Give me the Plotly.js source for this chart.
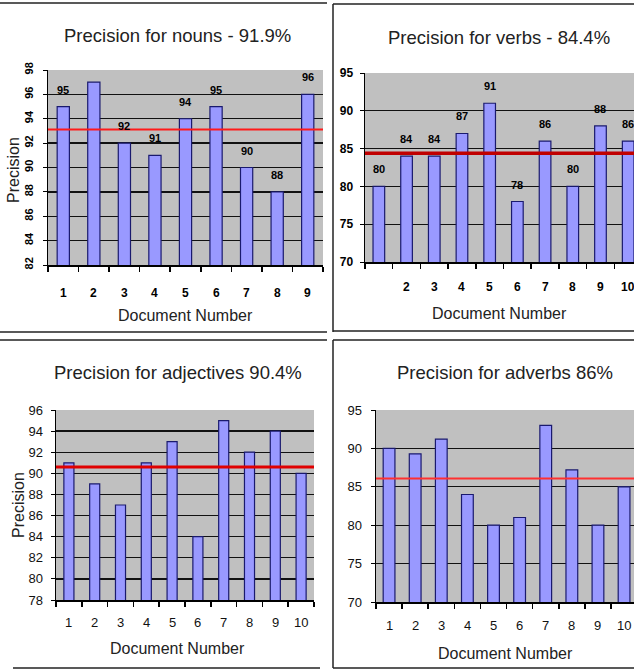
<!DOCTYPE html>
<html>
<head>
<meta charset="utf-8">
<script src="https://cdn.plot.ly/plotly-3.0.1.min.js"></script>
<style>
html,body{margin:0;padding:0;background:#fff;}
#chart{width:634px;height:671px;}
</style>
</head>
<body>
<div id="chart"></div>
<script>
// ---- data ----
const nounDocs = [1, 2, 3, 4, 5, 6, 7, 8, 9];
const nounTicks = ['1', '2', '3', '4', '5', '6', '7', '8', '9'];
const nounVals = [95, 97, 92, 91, 94, 95, 90, 88, 96];

const verbDocs = [1, 2, 3, 4, 5, 6, 7, 8, 9, 10];
const verbTicks = ['', '2', '3', '4', '5', '6', '7', '8', '9', '10'];
const verbVals = [80, 84, 84, 87, 91, 78, 86, 80, 88, 86];

const adjDocs = [1, 2, 3, 4, 5, 6, 7, 8, 9, 10];
const adjTicks = ['1', '2', '3', '4', '5', '6', '7', '8', '9', '10'];
const adjVals = [91, 89, 87, 91, 93, 84, 95, 92, 94, 90];

const advDocs = [1, 2, 3, 4, 5, 6, 7, 8, 9, 10];
const advTicks = ['1', '2', '3', '4', '5', '6', '7', '8', '9', '10'];
const advVals = [90, 89.3, 91.2, 84, 80, 81, 93, 87.2, 80, 85];

const titles = ['Precision for nouns - 91.9%', 'Precision for verbs - 84.4%',
                'Precision for adjectives 90.4%', 'Precision for adverbs 86%'];
const xTitle = 'Document Number';
const yTitle = 'Precision';

// ---- layout helpers ----
const W = 634, H = 671;
const px = v => v / W;
const py = v => 1 - v / H;
const mean = a => a.reduce((s, v) => s + v, 0) / a.length;

const BAR = '#9999ff', BAR_LINE = '#1a1a6e', BG = '#c0c0c0';
const NARROW = '"Liberation Sans Narrow", "Arial Narrow", "Liberation Sans", sans-serif';
const SANS = '"Liberation Sans", Arial, sans-serif';

// x axis: ticks on category boundaries, labels drawn as annotations under each bar
function xAxis(dom, range, anchor) {
  return {
    domain: dom, range: range, anchor: anchor, tickmode: 'linear', tick0: 0.5, dtick: 1,
    ticks: 'outside', ticklen: 5, tickwidth: 1.5, tickcolor: '#000',
    showticklabels: false, showgrid: false, zeroline: false, showline: true,
    linecolor: '#000', linewidth: 1.5, fixedrange: true
  };
}
function yAxis(dom, range, dtick, font, angle, standoff, anchor) {
  return {
    domain: dom, range: range, anchor: anchor, tick0: range[0], dtick: dtick,
    showgrid: true, gridcolor: '#111', gridwidth: 1.3, zeroline: false,
    showline: true, linecolor: '#000', linewidth: 1.5, ticks: 'outside',
    ticklen: 4, tickcolor: '#000', tickfont: font, tickangle: angle,
    ticklabelstandoff: standoff, fixedrange: true
  };
}
function barTrace(x, y, xa, ya, width) {
  return {type: 'bar', x: x, y: y, xaxis: xa, yaxis: ya, width: width,
          marker: {color: BAR, line: {color: BAR_LINE, width: 1.2}},
          hoverinfo: 'skip', showlegend: false};
}

const data = [
  barTrace(nounDocs, nounVals, 'x', 'y', 0.4),
  barTrace(verbDocs, verbVals, 'x2', 'y2', 0.42),
  barTrace(adjDocs, adjVals, 'x3', 'y3', 0.39),
  barTrace(advDocs, advVals, 'x4', 'y4', 0.45)
];

const boldTick = {family: NARROW, size: 12, color: '#000', weight: 'bold'};
const normTick = {family: NARROW, size: 13, color: '#111'};

const ranges = {y: [82, 98], y2: [70, 95], y3: [78, 96], y4: [70, 95]};

const layout = {
  width: W, height: H, margin: {l: 0, r: 0, t: 0, b: 0},
  paper_bgcolor: '#fff', plot_bgcolor: BG, bargap: 0,
  xaxis: xAxis([px(48), px(323)], [0.5, 9.5], 'y'),
  yaxis: yAxis([py(265), py(70)], ranges.y, 2, {family: NARROW, size: 11, color: '#000', weight: 'bold'}, -90, 5, 'x'),
  xaxis2: xAxis([px(365), 1], [0.5, 10.21], 'y2'),
  yaxis2: yAxis([py(262), py(73)], ranges.y2, 5, boldTick, 0, 4, 'x2'),
  xaxis3: xAxis([px(56), px(314)], [0.5, 10.5], 'y3'),
  yaxis3: yAxis([py(600), py(410)], ranges.y3, 2, normTick, 0, 5, 'x3'),
  xaxis4: xAxis([px(376), 1], [0.5, 10.38], 'y4'),
  yaxis4: yAxis([py(602), py(410)], ranges.y4, 5, normTick, 0, 6, 'x4'),
  shapes: [],
  annotations: []
};

// mean (red) lines
const reds = [
  ['x', 'y', nounVals, '#ff1a1a', 2],
  ['x2', 'y2', verbVals, '#c00000', 3.5],
  ['x3', 'y3', adjVals, '#e00000', 3],
  ['x4', 'y4', advVals, '#ff3030', 2]
];
reds.forEach(([xa, ya, vals, col, w]) => {
  const m = mean(vals);
  layout.shapes.push({type: 'line', xref: xa + ' domain', yref: ya, x0: 0, x1: 1,
                      y0: m, y1: m, line: {color: col, width: w}, layer: 'above'});
});

// panel frames
const line = (x0, y0, x1, y1) => ({type: 'line', xref: 'paper', yref: 'paper',
  x0: px(x0), y0: py(y0), x1: px(x1), y1: py(y1), line: {color: '#222', width: 1.5}});
layout.shapes.push(
  line(0, 3, 327, 3), line(0, 332, 327, 332),
  line(333, 4, 634, 4), line(333, 4, 333, 332), line(333, 331, 634, 331),
  line(0, 340, 327, 340), line(13, 668, 320, 668),
  line(333, 340, 634, 340), line(333, 340, 333, 668), line(333, 668, 634, 668)
);

// titles
const titleFont = {family: SANS, size: 18.5, color: '#222'};
const axFont = {family: SANS, size: 16, color: '#222'};
const ann = (x, y, text, font, angle) => ({xref: 'paper', yref: 'paper', x: px(x), y: py(y),
  text: text, showarrow: false, font: font, textangle: angle || 0,
  xanchor: 'center', yanchor: 'middle'});
layout.annotations.push(
  ann(177, 35, titles[0], titleFont), ann(499, 37, titles[1], titleFont),
  ann(178, 372, titles[2], titleFont), ann(505, 372, titles[3], titleFont),
  ann(185, 315, xTitle, axFont), ann(499, 313, xTitle, axFont),
  ann(178, 648, xTitle, axFont), ann(505, 653, xTitle, axFont),
  ann(13, 170, yTitle, axFont, -90), ann(18, 505, yTitle, axFont, -90)
);

// category labels under each bar
[[nounDocs, nounTicks, 'x', 'y', 28, boldTick],
 [verbDocs, verbTicks, 'x2', 'y2', 25, boldTick],
 [adjDocs, adjTicks, 'x3', 'y3', 22, normTick],
 [advDocs, advTicks, 'x4', 'y4', 23, normTick]].forEach(([xs, labels, xa, ya, off, font]) => {
  xs.forEach((x, i) => {
    if (!labels[i]) return;
    layout.annotations.push({xref: xa, yref: ya + ' domain', x: x, y: 0, yshift: -off,
      text: labels[i], showarrow: false, font: font, xanchor: 'center', yanchor: 'middle'});
  });
});

// value labels on nouns and verbs
const labelFont = {family: NARROW, size: 11, color: '#000', weight: 'bold'};
[[nounDocs, nounVals, 'x', 'y'], [verbDocs, verbVals, 'x2', 'y2']].forEach(([xs, vs, xa, ya]) => {
  xs.forEach((x, i) => {
    if (vs[i] < ranges[ya][1] - 1.5) {
      layout.annotations.push({xref: xa, yref: ya, x: x, y: vs[i], text: String(vs[i]),
        showarrow: false, yshift: 17, font: labelFont, xanchor: 'center', yanchor: 'middle'});
    }
  });
});

Plotly.newPlot('chart', data, layout, {staticPlot: true, displayModeBar: false});
</script>
</body>
</html>
